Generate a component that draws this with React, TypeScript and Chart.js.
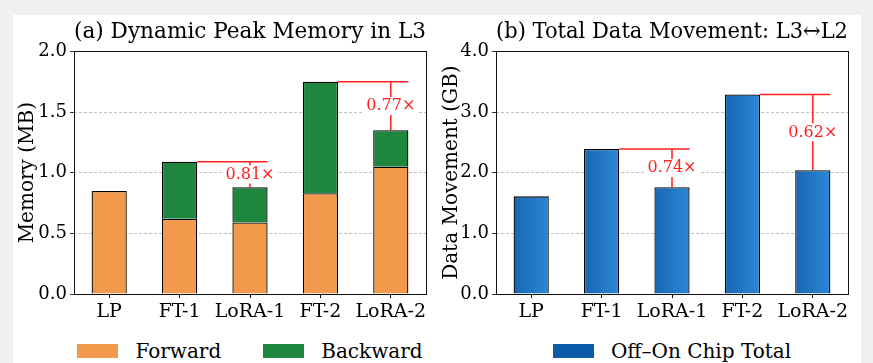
import React, { useEffect, useRef } from "react";
import { Chart, registerables } from "chart.js";
Chart.register(...registerables);

const categories = ["LP", "FT-1", "LoRA-1", "FT-2", "LoRA-2"];
const forwardMB = [0.85, 0.62, 0.59, 0.83, 1.05];
const backwardMB = [null, 0.47, 0.29, 0.92, 0.3];
const dataMovementGB = [1.61, 2.39, 1.76, 3.29, 2.04];
const comparePairs = [
  [1, 2],
  [3, 4],
];
const memoryRatioLabels = ["0.81×", "0.77×"];
const movementRatioLabels = ["0.74×", "0.62×"];
const memoryTicks = [0, 2, 0.5];
const movementTicks = [0, 4, 1];

const FONT = "'DejaVu Serif', serif";
const RED = "#ff1f1f";
const ORANGE = "#f2994b";
const GREEN = "#1f873d";
const BLUE_LEGEND = "#0b5ca8";

const memoryTotals = forwardMB.map((f, i) => f + (backwardMB[i] ?? 0));

const boxPlugin = {
  id: "frameBox",
  afterDatasetsDraw(chart: any) {
    const { ctx, chartArea } = chart;
    ctx.save();
    ctx.strokeStyle = "#111";
    ctx.lineWidth = 1;
    ctx.strokeRect(
      Math.round(chartArea.left) + 0.5,
      Math.round(chartArea.top) + 0.5,
      Math.round(chartArea.right - chartArea.left),
      Math.round(chartArea.bottom - chartArea.top)
    );
    ctx.restore();
  },
};

function ratioPlugin(id: string, totals: number[], labels: string[]) {
  return {
    id,
    afterDatasetsDraw(chart: any) {
      const ctx = chart.ctx;
      const y = chart.scales.y;
      const meta = chart.getDatasetMeta(chart.data.datasets.length - 1);
      comparePairs.forEach(([a, b], k) => {
        const ea = meta.data[a];
        const eb = meta.data[b];
        const ya = y.getPixelForValue(totals[a]);
        const yb = y.getPixelForValue(totals[b]);
        const xaRight = ea.x + ea.width / 2;
        const xbRight = eb.x + eb.width / 2;
        const xb = eb.x;
        ctx.save();
        ctx.strokeStyle = RED;
        ctx.lineWidth = 1.5;
        ctx.beginPath();
        ctx.moveTo(xaRight, ya);
        ctx.lineTo(xbRight, ya);
        ctx.moveTo(xb, ya);
        ctx.lineTo(xb, yb);
        ctx.stroke();
        const ym = (ya + yb) / 2;
        ctx.font = `16px ${FONT}`;
        const w = ctx.measureText(labels[k]).width;
        ctx.fillStyle = "#fff";
        ctx.fillRect(xb - w / 2 - 2, ym - 9, w + 4, 18);
        ctx.fillStyle = RED;
        ctx.textAlign = "center";
        ctx.textBaseline = "middle";
        ctx.fillText(labels[k], xb, ym);
        ctx.restore();
      });
    },
  };
}

function baseScales(yTitle: string, ticks: number[], yWidth: number, stacked: boolean) {
  return {
    x: {
      stacked,
      grid: {
        offset: false,
        drawOnChartArea: false,
        drawTicks: true,
        tickLength: 4,
        tickColor: "#000",
      },
      border: { display: false },
      ticks: {
        font: { family: FONT, size: 19 },
        color: "#000",
        padding: 3,
        maxRotation: 0,
        minRotation: 0,
        autoSkip: false,
      },
      afterFit: (s: any) => {
        s.height = 39;
      },
    },
    y: {
      stacked,
      min: ticks[0],
      max: ticks[1],
      ticks: {
        stepSize: ticks[2],
        callback: (v: any) => Number(v).toFixed(1),
        font: { family: FONT, size: 18 },
        color: "#000",
        padding: 3,
      },
      grid: {
        color: "#b0b0b0",
        lineWidth: 0.8,
        tickColor: "#000",
        tickLength: 4,
      },
      border: { display: false, dash: [3, 2] },
      title: {
        display: true,
        text: yTitle,
        font: { family: FONT, size: 20 },
        color: "#000",
        padding: { top: 3, bottom: 0 },
      },
      afterFit: (s: any) => {
        s.width = yWidth;
      },
    },
  };
}

function titleOpts(text: string) {
  return {
    display: true,
    text,
    font: { family: FONT, size: 22, weight: "normal" as const },
    color: "#000",
    padding: { top: 4, bottom: 6 },
    fullSize: false,
  };
}

export default function App() {
  const ref1 = useRef<HTMLCanvasElement>(null);
  const ref2 = useRef<HTMLCanvasElement>(null);

  useEffect(() => {
    Chart.defaults.font.family = FONT;
    const c1 = new Chart(ref1.current!, {
      type: "bar",
      data: {
        labels: categories,
        datasets: [
          {
            label: "Forward",
            data: forwardMB,
            backgroundColor: ORANGE,
            borderColor: "#000",
            borderWidth: 1.3,
            barPercentage: 0.5,
            categoryPercentage: 1,
          },
          {
            label: "Backward",
            data: backwardMB as any,
            backgroundColor: GREEN,
            borderColor: "#000",
            borderWidth: 1.3,
            barPercentage: 0.5,
            categoryPercentage: 1,
          },
        ],
      },
      options: {
        responsive: false,
        animation: false,
        layout: { padding: { left: 0, right: 11, top: 0, bottom: 0 } },
        plugins: {
          legend: { display: false },
          tooltip: { enabled: false },
          title: titleOpts("(a) Dynamic Peak Memory in L3"),
        },
        scales: baseScales("Memory (MB)", memoryTicks, 61, true) as any,
      },
      plugins: [boxPlugin, ratioPlugin("ratioA", memoryTotals, memoryRatioLabels)],
    });

    const c2 = new Chart(ref2.current!, {
      type: "bar",
      data: {
        labels: categories,
        datasets: [
          {
            label: "Off–On Chip Total",
            data: dataMovementGB,
            backgroundColor: (ctx: any) => {
              const chart = ctx.chart;
              const area = chart.chartArea;
              if (!area || ctx.dataIndex === undefined) return "#1f77c4";
              const cx = chart.scales.x.getPixelForValue(ctx.dataIndex);
              const hw = ((area.right - area.left) / categories.length) * 0.25;
              const g = chart.ctx.createLinearGradient(cx - hw, 0, cx + hw, 0);
              g.addColorStop(0, "#1966b0");
              g.addColorStop(1, "#2a88d8");
              return g;
            },
            borderColor: "#000",
            borderWidth: 1.3,
            barPercentage: 0.5,
            categoryPercentage: 1,
          },
        ],
      },
      options: {
        responsive: false,
        animation: false,
        layout: { padding: { left: 0, right: 13, top: 0, bottom: 0 } },
        plugins: {
          legend: { display: false },
          tooltip: { enabled: false },
          title: titleOpts("(b) Total Data Movement: L3↔L2"),
        },
        scales: baseScales("Data Movement (GB)", movementTicks, 59, false) as any,
      },
      plugins: [boxPlugin, ratioPlugin("ratioB", dataMovementGB, movementRatioLabels)],
    });

    return () => {
      c1.destroy();
      c2.destroy();
    };
  }, []);

  const swatch = (color: string) => (
    <span style={{ display: "inline-block", width: 41, height: 14, background: color, marginRight: 17 }} />
  );
  const legendStyle: React.CSSProperties = {
    position: "absolute",
    top: 340,
    height: 22,
    width: 352,
    display: "flex",
    justifyContent: "center",
    alignItems: "center",
    fontFamily: FONT,
    fontSize: 20,
    color: "#000",
    whiteSpace: "nowrap",
  };

  return (
    <div
      style={{
        position: "fixed",
        left: 0,
        top: 0,
        width: 873,
        height: 363,
        background: "#f0f0f0",
        overflow: "hidden",
      }}
    >
      <div style={{ position: "absolute", left: 13, top: 15, width: 848, height: 348, background: "#fff" }} />
      <canvas ref={ref1} width={424} height={318} style={{ position: "absolute", left: 13, top: 15 }} />
      <canvas ref={ref2} width={424} height={318} style={{ position: "absolute", left: 437, top: 15 }} />
      <div style={{ ...legendStyle, left: 74 }}>
        {swatch(ORANGE)}
        <span style={{ marginRight: 42 }}>Forward</span>
        {swatch(GREEN)}
        <span>Backward</span>
      </div>
      <div style={{ ...legendStyle, left: 496 }}>
        {swatch(BLUE_LEGEND)}
        <span>Off–On Chip Total</span>
      </div>
    </div>
  );
}
